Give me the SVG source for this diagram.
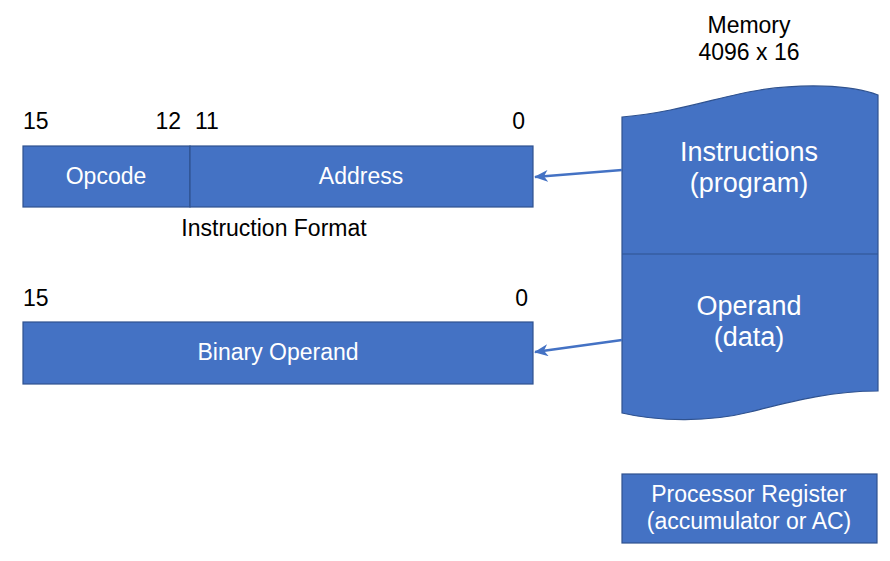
<svg xmlns="http://www.w3.org/2000/svg" width="890" height="561" viewBox="0 0 890 561">
<style>
.box{fill:#4472C4;stroke:#2F528F;stroke-width:1.2}
.w{fill:#fff;font-family:"Liberation Sans",Arial,sans-serif;font-size:23px;text-anchor:middle}
.wl{fill:#fff;font-family:"Liberation Sans",Arial,sans-serif;font-size:27px;text-anchor:middle}
.k{fill:#000;font-family:"Liberation Sans",Arial,sans-serif;font-size:23px}
.conn{stroke:#4472C4;stroke-width:2.5;fill:none}
</style>
<defs>
<marker id="ah" viewBox="0 0 14 12" refX="13" refY="6" markerWidth="14" markerHeight="12" markerUnits="userSpaceOnUse" orient="auto">
<path d="M14,6 L0,0 L4,6 L0,12 Z" fill="#4472C4"/>
</marker>
</defs>
<rect width="890" height="561" fill="#fff"/>
<g id="memory-title">
<text class="k" text-anchor="middle"><tspan x="749" y="33">Memory</tspan><tspan x="749" y="60">4096 x 16</tspan></text>
</g>
<g id="memory">
<path class="box" d="M622,117 C680,112 720,96 760,90 C800,84 850,84 878,95 L878,391 C830,391 790,402 750,412 C710,422 660,422 622,413 Z"/>
<line x1="622" y1="254" x2="878" y2="254" stroke="#2F528F" stroke-width="1.2"/>
<text class="wl"><tspan x="749" y="161">Instructions</tspan><tspan x="749" y="192">(program)</tspan></text>
<text class="wl"><tspan x="749" y="315">Operand</tspan><tspan x="749" y="346">(data)</tspan></text>
</g>
<g id="instruction-format">
<text class="k" x="23" y="129">15</text>
<text class="k" x="181" y="129" text-anchor="end">12</text>
<text class="k" x="195" y="129">11</text>
<text class="k" x="525" y="129" text-anchor="end">0</text>
<rect class="box" x="23" y="146" width="167" height="61"/>
<rect class="box" x="190" y="146" width="343" height="61"/>
<text class="w" x="106" y="184">Opcode</text>
<text class="w" x="361" y="184">Address</text>
<text class="k" x="274" y="236" text-anchor="middle">Instruction Format</text>
</g>
<g id="binary-operand">
<text class="k" x="23" y="306">15</text>
<text class="k" x="528" y="306" text-anchor="end">0</text>
<rect class="box" x="23" y="322" width="510" height="62"/>
<text class="w" x="278" y="360">Binary Operand</text>
</g>
<g id="processor-register">
<rect class="box" x="622" y="474" width="255" height="69"/>
<text class="w"><tspan x="749" y="502">Processor Register</tspan><tspan x="749" y="529">(accumulator or AC)</tspan></text>
</g>
<g id="connectors">
<line class="conn" x1="622" y1="170" x2="535" y2="177" marker-end="url(#ah)"/>
<line class="conn" x1="622" y1="340" x2="535" y2="352" marker-end="url(#ah)"/>
</g>
</svg>
